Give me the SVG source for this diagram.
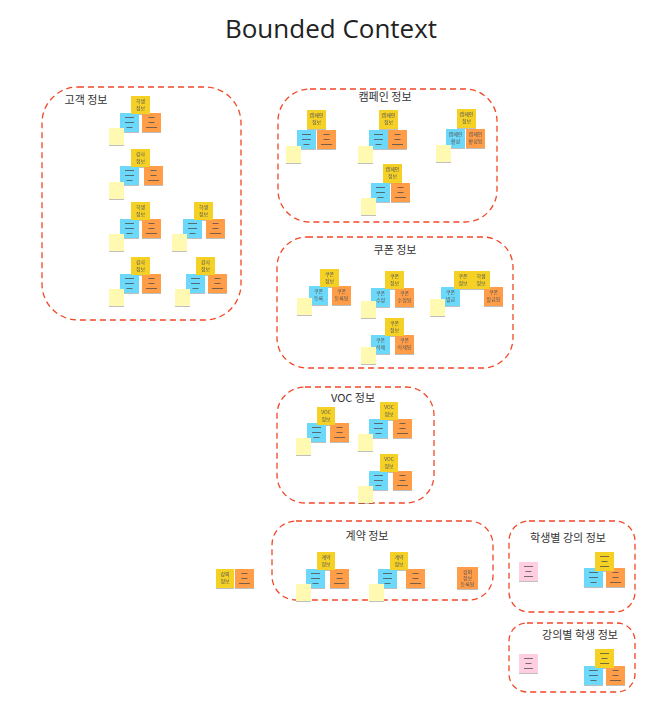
<svg xmlns="http://www.w3.org/2000/svg" xmlns:xlink="http://www.w3.org/1999/xlink" width="657" height="712" viewBox="0 0 657 712">
<style>
.grp{fill:none;stroke:#F24726;stroke-width:1.3;stroke-dasharray:6 4}
.y{fill:#F5D128}.b{fill:#6CD8FA}.o{fill:#FF9D48}.p{fill:#FFF9B1}.k{fill:#FFCEE0}
.ln{stroke:#4a4a4a;stroke-opacity:.75;stroke-width:1.2}
.title{font-family:"Open Sans","Noto Sans",sans-serif;font-size:26px;fill:#222;text-anchor:middle}
.gt{font-family:"Noto Sans CJK KR","Noto Sans",sans-serif;font-size:11px;fill:#333;text-anchor:middle}
.s{font-family:"Noto Sans CJK KR","Noto Sans",sans-serif;font-size:5px;fill:#555;text-anchor:middle}
.n{filter:url(#sh)}
</style>
<defs>
<filter id="sh" x="-20%" y="-20%" width="140%" height="150%"><feDropShadow dx="0" dy="1" stdDeviation="0.7" flood-opacity="0.25"/></filter>
<g id="nb"><rect class="b" width="19" height="19"/><path class="ln" d="M5 4.5H14M5 9.5H14M6.5 14.5H12.5"/></g>
<g id="no"><rect class="o" width="19" height="19"/><path class="ln" d="M6.5 4.5H12.5M6.5 9.5H12.5M4 14.5H15"/></g>
<g id="ny"><rect class="y" width="19" height="19"/><path class="ln" d="M5 4.5H14M6.5 9.5H12.5M5 14.5H14"/></g>
<g id="nk"><rect class="k" width="19" height="19"/><path class="ln" d="M5 4.5H14M6.5 9.5H12.5M5 14.5H14"/></g>
<g id="np"><rect class="p" width="15" height="17"/></g>
</defs>
<rect width="657" height="712" fill="#fff"/>
<text class="title" x="331" y="38">Bounded Context</text>

<g id="connectors"></g>

<g id="customer">
<rect class="grp" x="42" y="87" width="199" height="233" rx="36"/>
<text class="gt" x="86" y="104">고객 정보</text>
<g class="n">
<use href="#nb" x="120" y="113"/><use href="#no" x="142" y="113"/>
<rect class="y" x="131" y="96" width="19" height="18"/><text class="s" x="140.5" y="103">학생</text><text class="s" x="140.5" y="110">정보</text>
<use href="#np" x="109" y="128"/>
<use href="#nb" x="120" y="166"/><use href="#no" x="144" y="166"/>
<rect class="y" x="131" y="149" width="19" height="18"/><text class="s" x="140.5" y="156">강사</text><text class="s" x="140.5" y="163">정보</text>
<use href="#np" x="109" y="182"/>
<use href="#nb" x="120" y="219"/><use href="#no" x="142" y="219"/>
<rect class="y" x="131" y="202" width="19" height="18"/><text class="s" x="140.5" y="209">학생</text><text class="s" x="140.5" y="216">정보</text>
<use href="#np" x="109" y="234"/>
<use href="#nb" x="183" y="219"/><use href="#no" x="206" y="219"/>
<rect class="y" x="194" y="202" width="19" height="18"/><text class="s" x="203.5" y="209">학생</text><text class="s" x="203.5" y="216">정보</text>
<use href="#np" x="172" y="234"/>
<use href="#nb" x="120" y="274"/><use href="#no" x="142" y="274"/>
<rect class="y" x="131" y="257" width="19" height="18"/><text class="s" x="140.5" y="264">강사</text><text class="s" x="140.5" y="271">정보</text>
<use href="#np" x="109" y="289"/>
<use href="#nb" x="186" y="274"/><use href="#no" x="208" y="274"/>
<rect class="y" x="196" y="257" width="19" height="18"/><text class="s" x="205.5" y="264">강사</text><text class="s" x="205.5" y="271">정보</text>
<use href="#np" x="175" y="289"/>
</g>
</g>

<g id="campaign">
<rect class="grp" x="278" y="89" width="219" height="133" rx="32"/>
<text class="gt" x="385" y="101">캠페인 정보</text>
<g class="n">
<use href="#nb" x="297" y="130"/><use href="#no" x="317" y="130"/>
<rect class="y" x="307" y="110" width="19" height="19"/><text class="s" x="316.5" y="117">캠페인</text><text class="s" x="316.5" y="124">정보</text>
<use href="#np" x="286" y="146"/>
<use href="#nb" x="369" y="130"/><use href="#no" x="388" y="130"/>
<rect class="y" x="379" y="110" width="19" height="19"/><text class="s" x="388.5" y="117">캠페인</text><text class="s" x="388.5" y="124">정보</text>
<use href="#np" x="358" y="146"/>
<rect class="b" x="446" y="129" width="19" height="19"/><text class="s" x="455.5" y="136">캠페인</text><text class="s" x="455.5" y="143">활성</text>
<rect class="o" x="466" y="129" width="19" height="19"/><text class="s" x="475.5" y="136">캠페인</text><text class="s" x="475.5" y="143">활성됨</text>
<rect class="y" x="457" y="109" width="19" height="19"/><text class="s" x="466.5" y="116">캠페인</text><text class="s" x="466.5" y="123">정보</text>
<use href="#np" x="436" y="145"/>
<use href="#nb" x="371" y="183"/><use href="#no" x="391" y="183"/>
<rect class="y" x="383" y="164" width="19" height="19"/><text class="s" x="392.5" y="171">캠페인</text><text class="s" x="392.5" y="178">정보</text>
<use href="#np" x="361" y="198"/>
</g>
</g>

<g id="coupon">
<rect class="grp" x="277" y="237" width="236" height="131" rx="30"/>
<text class="gt" x="395" y="254">쿠폰 정보</text>
<g class="n">
<rect class="b" x="309" y="286" width="19" height="19"/><text class="s" x="318.5" y="293">쿠폰</text><text class="s" x="318.5" y="300">등록</text>
<rect class="o" x="332" y="286" width="19" height="19"/><text class="s" x="341.5" y="293">쿠폰</text><text class="s" x="341.5" y="300">등록됨</text>
<rect class="y" x="320" y="269" width="19" height="18"/><text class="s" x="329.5" y="276">쿠폰</text><text class="s" x="329.5" y="283">정보</text>
<use href="#np" x="297" y="298"/>
<rect class="b" x="371" y="288" width="19" height="19"/><text class="s" x="380.5" y="295">쿠폰</text><text class="s" x="380.5" y="302">수정</text>
<rect class="o" x="395" y="288" width="19" height="19"/><text class="s" x="404.5" y="295">쿠폰</text><text class="s" x="404.5" y="302">수정됨</text>
<rect class="y" x="385" y="271" width="19" height="18"/><text class="s" x="394.5" y="278">쿠폰</text><text class="s" x="394.5" y="285">정보</text>
<use href="#np" x="361" y="301"/>
<rect class="b" x="441" y="287" width="19" height="19"/><text class="s" x="450.5" y="294">쿠폰</text><text class="s" x="450.5" y="301">발급</text>
<rect class="o" x="484" y="287" width="19" height="19"/><text class="s" x="493.5" y="294">쿠폰</text><text class="s" x="493.5" y="301">발급됨</text>
<rect class="y" x="454" y="271" width="18" height="18"/><text class="s" x="463" y="278">쿠폰</text><text class="s" x="463" y="285">정보</text>
<rect class="y" x="472" y="271" width="18" height="18"/><text class="s" x="481" y="278">학생</text><text class="s" x="481" y="285">정보</text>
<use href="#np" x="430" y="299"/>
<rect class="b" x="371" y="335" width="19" height="19"/><text class="s" x="380.5" y="342">쿠폰</text><text class="s" x="380.5" y="349">삭제</text>
<rect class="o" x="395" y="335" width="19" height="19"/><text class="s" x="404.5" y="342">쿠폰</text><text class="s" x="404.5" y="349">삭제됨</text>
<rect class="y" x="385" y="318" width="19" height="18"/><text class="s" x="394.5" y="325">쿠폰</text><text class="s" x="394.5" y="332">정보</text>
<use href="#np" x="361" y="347"/>
</g>
</g>

<g id="voc">
<rect class="grp" x="277" y="387" width="157" height="116" rx="28"/>
<text class="gt" x="353" y="402">VOC 정보</text>
<g class="n">
<use href="#nb" x="307" y="423"/><use href="#no" x="330" y="423"/>
<rect class="y" x="317" y="407" width="18" height="18"/><text class="s" x="326" y="414">VOC</text><text class="s" x="326" y="421">정보</text>
<use href="#np" x="296" y="438"/>
<use href="#nb" x="369" y="419"/><use href="#no" x="393" y="419"/>
<rect class="y" x="380" y="402" width="18" height="18"/><text class="s" x="389" y="409">VOC</text><text class="s" x="389" y="416">정보</text>
<use href="#np" x="358" y="434"/>
<use href="#nb" x="369" y="471"/><use href="#no" x="393" y="471"/>
<rect class="y" x="380" y="454" width="18" height="18"/><text class="s" x="389" y="461">VOC</text><text class="s" x="389" y="468">정보</text>
<use href="#np" x="358" y="486"/>
</g>
</g>

<g id="lecture">
<g class="n">
<rect class="y" x="216" y="569" width="18" height="19"/><text class="s" x="225" y="576">강의</text><text class="s" x="225" y="583">정보</text>
<use href="#no" x="235" y="569"/>
</g>
</g>

<g id="contract">
<rect class="grp" x="272" y="521" width="221" height="79" rx="24"/>
<text class="gt" x="367" y="540">계약 정보</text>
<g class="n">
<use href="#nb" x="306" y="569"/><use href="#no" x="330" y="569"/>
<rect class="y" x="317" y="552" width="18" height="18"/><text class="s" x="326" y="559">계약</text><text class="s" x="326" y="566">정보</text>
<use href="#np" x="296" y="584"/>
<use href="#nb" x="378" y="569"/><use href="#no" x="406" y="569"/>
<rect class="y" x="390" y="552" width="18" height="18"/><text class="s" x="399" y="559">계약</text><text class="s" x="399" y="566">정보</text>
<use href="#np" x="369" y="584"/>
<rect class="o" x="457" y="567" width="21" height="22"/><text class="s" x="467.5" y="574">강의</text><text class="s" x="467.5" y="580">정보</text><text class="s" x="467.5" y="586">등록됨</text>
</g>
</g>

<g id="student-lecture">
<rect class="grp" x="509" y="521" width="126" height="91" rx="20"/>
<text class="gt" x="568" y="542">학생별 강의 정보</text>
<g class="n">
<use href="#nk" x="519" y="562"/>
<use href="#nb" x="584" y="568"/><use href="#no" x="606" y="568"/>
<use href="#ny" x="595" y="552"/>
</g>
</g>

<g id="lecture-student">
<rect class="grp" x="509" y="623" width="126" height="69" rx="18"/>
<text class="gt" x="580" y="639">강의별 학생 정보</text>
<g class="n">
<use href="#nk" x="519" y="654"/>
<use href="#nb" x="584" y="666"/><use href="#no" x="606" y="666"/>
<use href="#ny" x="595" y="649"/>
</g>
</g>
</svg>
